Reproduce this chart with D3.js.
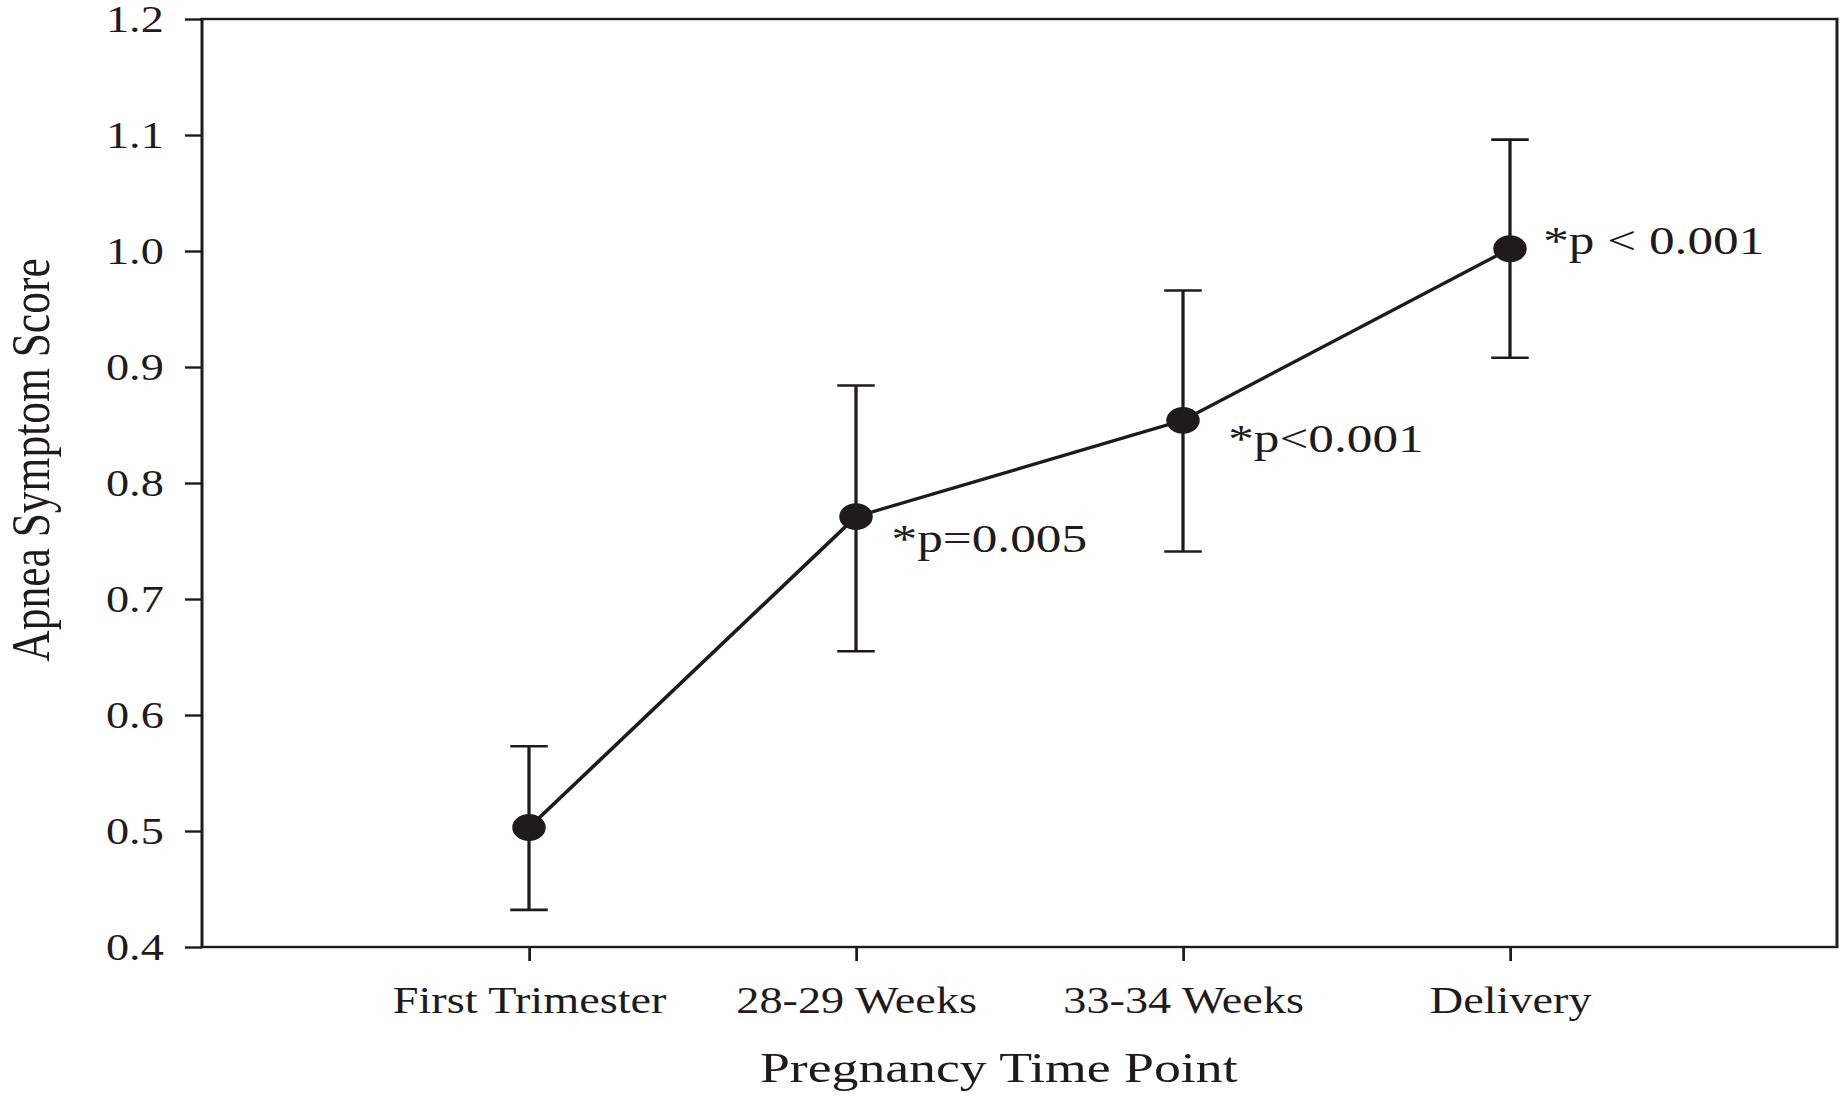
<!DOCTYPE html>
<html lang="en">
<head>
  <meta charset="UTF-8">
  <title>Apnea Symptom Score by Pregnancy Time Point</title>
  <script src="https://d3js.org/d3.v7.min.js"></script>
  <style>
    html, body { margin: 0; padding: 0; background: #fff; }
    svg { display: block; }
    text { font-family: "Liberation Serif", "Times New Roman", serif; fill: #1f1b1c; }
  </style>
</head>
<body>
  <svg id="chart"></svg>

  <script>
    // data
    const categories = ["First Trimester", "28-29 Weeks", "33-34 Weeks", "Delivery"];
    const means = [0.503, 0.771, 0.854, 1.002];
    const upper = [0.573, 0.884, 0.966, 1.096];
    const lower = [0.432, 0.655, 0.741, 0.908];
    const pLabels = ["", "*p=0.005", "*p<0.001", "*p < 0.001"];
    const yTicks = [0.4, 0.5, 0.6, 0.7, 0.8, 0.9, 1.0, 1.1, 1.2];

    // the original picture is stretched horizontally, so draw in a narrower
    // viewBox and let the svg stretch it out
    const outW = 1842, outH = 1096, stretch = 1.25;
    const W = outW / stretch, H = outH;
    const margin = { left: 161.6, right: W - 1469.6, top: 19, bottom: H - 947 };
    const ink = "#1f1b1c";

    // label offsets from each point (viewBox units)
    const labelDx = [0, 28.5, 36.2, 26.6];
    const labelDy = [0, 35, 31.7, 5];

    const svg = d3.select("#chart")
      .attr("width", outW)
      .attr("height", outH)
      .attr("viewBox", `0 0 ${W} ${H}`)
      .attr("preserveAspectRatio", "none");

    const x = d3.scalePoint()
      .domain(categories)
      .range([margin.left, W - margin.right])
      .padding(1);

    const y = d3.scaleLinear()
      .domain([0.4, 1.2])
      .range([H - margin.bottom, margin.top]);

    // frame
    svg.append("rect")
      .attr("x", margin.left)
      .attr("y", margin.top)
      .attr("width", W - margin.left - margin.right)
      .attr("height", H - margin.top - margin.bottom)
      .attr("fill", "none")
      .attr("stroke", ink)
      .attr("stroke-width", 2.4);

    // y axis
    const yAxis = svg.append("g")
      .attr("transform", `translate(${margin.left},0)`)
      .call(d3.axisLeft(y).tickValues(yTicks).tickFormat(d3.format(".1f")).tickSize(13.6).tickPadding(17).tickSizeOuter(0));
    yAxis.select(".domain").remove();
    yAxis.selectAll("line").attr("stroke", ink).attr("stroke-width", 2.4);
    yAxis.selectAll("text")
      .attr("font-size", 37)
      .attr("font-family", "Liberation Serif, Times New Roman, serif")
      .attr("fill", ink)
      .attr("dy", "0.33em");

    // x axis
    const xAxis = svg.append("g")
      .attr("transform", `translate(0,${H - margin.bottom})`)
      .call(d3.axisBottom(x).tickSize(14).tickSizeOuter(0));
    xAxis.select(".domain").remove();
    xAxis.selectAll("line").attr("stroke", ink).attr("stroke-width", 2.2);
    xAxis.selectAll("text")
      .attr("font-size", 37)
      .attr("font-family", "Liberation Serif, Times New Roman, serif")
      .attr("fill", ink)
      .attr("y", 66)
      .attr("dy", 0);

    // axis titles
    svg.append("text")
      .attr("x", 799)
      .attr("y", 1082)
      .attr("text-anchor", "middle")
      .attr("font-size", 43)
      .text("Pregnancy Time Point");

    svg.append("text")
      .attr("transform", `translate(39,460) rotate(-90)`)
      .attr("text-anchor", "middle")
      .attr("font-size", 43.5)
      .text("Apnea Symptom Score");

    const pts = categories.map((c, i) => ({ c, m: means[i], hi: upper[i], lo: lower[i], p: pLabels[i], i }));

    // error bars
    const bars = svg.append("g").attr("stroke", ink).attr("stroke-width", 2.6);
    bars.selectAll("line.stem")
      .data(pts)
      .join("line")
      .attr("class", "stem")
      .attr("x1", d => x(d.c)).attr("x2", d => x(d.c))
      .attr("y1", d => y(d.lo)).attr("y2", d => y(d.hi));
    bars.selectAll("line.cap-hi")
      .data(pts)
      .join("line")
      .attr("class", "cap-hi")
      .attr("x1", d => x(d.c) - 15).attr("x2", d => x(d.c) + 15)
      .attr("y1", d => y(d.hi)).attr("y2", d => y(d.hi));
    bars.selectAll("line.cap-lo")
      .data(pts)
      .join("line")
      .attr("class", "cap-lo")
      .attr("x1", d => x(d.c) - 15).attr("x2", d => x(d.c) + 15)
      .attr("y1", d => y(d.lo)).attr("y2", d => y(d.lo));

    // mean line
    const line = d3.line().x(d => x(d.c)).y(d => y(d.m));
    svg.append("path")
      .datum(pts)
      .attr("d", line)
      .attr("fill", "none")
      .attr("stroke", ink)
      .attr("stroke-width", 3.2);

    // points
    svg.append("g")
      .selectAll("circle")
      .data(pts)
      .join("circle")
      .attr("cx", d => x(d.c))
      .attr("cy", d => y(d.m))
      .attr("r", 13.4)
      .attr("fill", ink);

    // p-value labels
    svg.append("g")
      .selectAll("text")
      .data(pts.filter(d => d.p))
      .join("text")
      .attr("x", d => x(d.c) + labelDx[d.i])
      .attr("y", d => y(d.m) + labelDy[d.i])
      .attr("font-size", 41)
      .text(d => d.p);
  </script>
</body>
</html>
